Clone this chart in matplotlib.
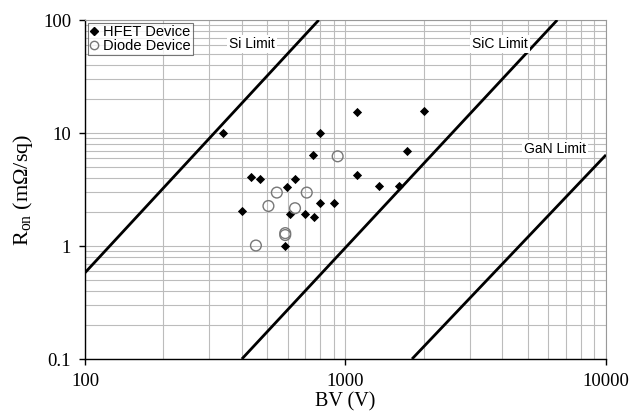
import matplotlib
matplotlib.use("Agg")
import matplotlib.pyplot as plt
from matplotlib.ticker import FixedLocator, FixedFormatter, LogLocator, NullFormatter
from matplotlib.lines import Line2D

plt.rcParams['mathtext.fontset'] = 'custom'
plt.rcParams['mathtext.rm'] = 'Liberation Serif'
plt.rcParams['mathtext.it'] = 'Liberation Serif:italic'

# HFET devices (filled diamonds)
hfet_bv = [340, 798, 1104, 2000, 1718, 753, 434, 469, 640, 594, 1104, 1349, 1611,
           400, 798, 903, 612, 701, 759, 585]
hfet_ron = [10.1, 10.1, 15.2, 15.7, 7.0, 6.35, 4.05, 3.92, 3.89, 3.35, 4.25, 3.42, 3.42,
            2.03, 2.42, 2.42, 1.92, 1.92, 1.82, 1.01]

# Diode devices (open circles)
diode_bv = [933, 545, 710, 506, 640, 587, 587, 453]
diode_ron = [6.22, 2.97, 2.97, 2.26, 2.16, 1.30, 1.25, 1.01]

# Material limit lines (end points)
si_bv, si_ron = [100, 790], [0.58, 100]
sic_bv, sic_ron = [400, 6500], [0.1, 100]
gan_bv, gan_ron = [1800, 10000], [0.1, 6.4]

limit_labels = ["Si Limit", "SiC Limit", "GaN Limit"]
limit_label_pos = [(437, 61.4), (3917, 61.4), (6370, 7.2)]

x_ticks = [100, 1000, 10000]
x_ticklabels = ["100", "1000", "10000"]
y_ticks = [0.1, 1, 10, 100]
y_ticklabels = ["0.1", "1", "10", "100"]

fig = plt.figure(figsize=(6.43, 4.15), dpi=100)
ax = fig.add_axes([85/643, 1 - 359/415, (606-85)/643, (359-20)/415])
ax.set_xscale('log')
ax.set_yscale('log')
ax.set_xlim(100, 10000)
ax.set_ylim(0.1, 100)

ax.xaxis.set_major_locator(FixedLocator(x_ticks))
ax.xaxis.set_major_formatter(FixedFormatter(x_ticklabels))
ax.yaxis.set_major_locator(FixedLocator(y_ticks))
ax.yaxis.set_major_formatter(FixedFormatter(y_ticklabels))
ax.xaxis.set_minor_locator(LogLocator(base=10, subs=range(2, 10)))
ax.yaxis.set_minor_locator(LogLocator(base=10, subs=range(2, 10)))
ax.xaxis.set_minor_formatter(NullFormatter())
ax.yaxis.set_minor_formatter(NullFormatter())
ax.tick_params(which='minor', length=0)
ax.tick_params(which='major', length=4, width=1, direction='out', pad=6)

ax.grid(True, which='both', color='#bcbcbc', linewidth=0.8)
ax.set_axisbelow(True)

for s in ['left', 'bottom']:
    ax.spines[s].set_color('black')
    ax.spines[s].set_linewidth(1.0)
for s in ['top', 'right']:
    ax.spines[s].set_color('#999999')
    ax.spines[s].set_linewidth(0.8)

for t in ax.get_xticklabels() + ax.get_yticklabels():
    t.set_fontfamily('Liberation Serif')
    t.set_fontsize(13.5)

for bv, r in [(si_bv, si_ron), (sic_bv, sic_ron), (gan_bv, gan_ron)]:
    ax.plot(bv, r, color='black', linewidth=2.0, solid_capstyle='butt', zorder=3)

ax.scatter(hfet_bv, hfet_ron, marker='D', s=22, color='black', zorder=4, linewidths=0)
ax.scatter(diode_bv, diode_ron, marker='o', s=60, facecolors='none',
           edgecolors='#777777', linewidths=1.0, zorder=4)

for lab, (x, y) in zip(limit_labels, limit_label_pos):
    ax.text(x, y, lab, ha='center', va='center', fontsize=10,
            family='Liberation Sans',
            bbox=dict(facecolor='white', edgecolor='none', pad=1.5), zorder=5)

handles = [
    Line2D([], [], marker='D', color='black', linestyle='none', markersize=4),
    Line2D([], [], marker='o', markerfacecolor='none', markeredgecolor='#777777',
           linestyle='none', markersize=6),
]
leg = ax.legend(handles, ["HFET Device", "Diode Device"], loc='upper left',
                prop={'family': 'Liberation Sans', 'size': 10.5},
                frameon=True, fancybox=False, borderpad=0.15, labelspacing=0.0,
                handlelength=0.5, handletextpad=0.4, borderaxespad=0.2)
leg.get_frame().set_edgecolor('#555555')
leg.get_frame().set_linewidth(0.8)

ax.set_xlabel("BV (V)", fontsize=14.5, family='Liberation Serif', labelpad=2)
ax.set_ylabel(r"R$_{\mathrm{on}}$ (mΩ/sq)", fontsize=16, family='Liberation Serif', labelpad=6)

fig.savefig("out.png", dpi=100)
